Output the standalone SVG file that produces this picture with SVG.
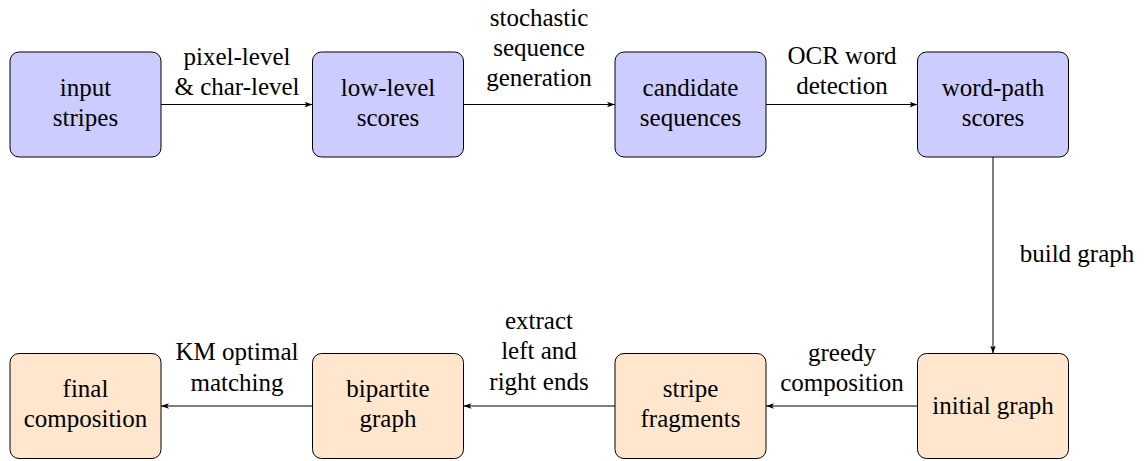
<svg xmlns="http://www.w3.org/2000/svg" width="1145" height="461" viewBox="0 0 1145 461" font-family="Liberation Serif, DejaVu Serif, serif" font-size="25">
<defs>
<style>
.b{fill:#ccccff;stroke:#000;stroke-width:1}
.o{fill:#ffe6cc;stroke:#000;stroke-width:1}
text{fill:#000;text-anchor:middle}
.c line{stroke:#000;stroke-width:1}
</style>
<marker id="ah" viewBox="0 0 10 10" refX="10" refY="5" markerWidth="8" markerHeight="8" markerUnits="userSpaceOnUse" orient="auto">
<path d="M0,1.5 L10,5 L0,8.5 L2.5,5 Z" fill="#000"/>
</marker>
</defs>
<g id="input-stripes"><rect class="b" x="10" y="52" width="151" height="105" rx="9"/><text x="85.5" y="96">input</text><text x="85.5" y="126">stripes</text></g>
<g id="low-level-scores"><rect class="b" x="312.5" y="52" width="151" height="105" rx="9"/><text x="388" y="96">low-level</text><text x="388" y="126">scores</text></g>
<g id="candidate-sequences"><rect class="b" x="615" y="52" width="151" height="105" rx="9"/><text x="690.5" y="96">candidate</text><text x="690.5" y="126">sequences</text></g>
<g id="word-path-scores"><rect class="b" x="917.5" y="52" width="151" height="105" rx="9"/><text x="993" y="96">word-path</text><text x="993" y="126">scores</text></g>
<g id="final-composition"><rect class="o" x="10" y="353.5" width="151" height="105" rx="9"/><text x="85.5" y="397">final</text><text x="85.5" y="427">composition</text></g>
<g id="bipartite-graph"><rect class="o" x="312.5" y="353.5" width="151" height="105" rx="9"/><text x="388" y="397">bipartite</text><text x="388" y="427">graph</text></g>
<g id="stripe-fragments"><rect class="o" x="615" y="353.5" width="151" height="105" rx="9"/><text x="690.5" y="397">stripe</text><text x="690.5" y="427">fragments</text></g>
<g id="initial-graph"><rect class="o" x="917.5" y="353.5" width="151" height="105" rx="9"/><text x="993" y="414">initial graph</text></g>
<g class="c" id="connectors">
<line x1="161" y1="104.5" x2="312.5" y2="104.5" marker-end="url(#ah)"/>
<line x1="463.5" y1="104.5" x2="615" y2="104.5" marker-end="url(#ah)"/>
<line x1="766" y1="104.5" x2="917.5" y2="104.5" marker-end="url(#ah)"/>
<line x1="993" y1="157" x2="993" y2="353.5" marker-end="url(#ah)"/>
<line x1="917.5" y1="406" x2="766" y2="406" marker-end="url(#ah)"/>
<line x1="615" y1="406" x2="463.5" y2="406" marker-end="url(#ah)"/>
<line x1="312.5" y1="406" x2="161" y2="406" marker-end="url(#ah)"/>
</g>
<g id="labels">
<text x="237" y="65">pixel-level</text><text x="237" y="95">&amp; char-level</text>
<text x="539" y="26">stochastic</text><text x="539" y="56">sequence</text><text x="539" y="86">generation</text>
<text x="842" y="64">OCR word</text><text x="842" y="94">detection</text>
<text x="1077" y="262">build graph</text>
<text x="842" y="361">greedy</text><text x="842" y="391">composition</text>
<text x="539" y="329">extract</text><text x="539" y="359">left and</text><text x="539" y="390">right ends</text>
<text x="237" y="360">KM optimal</text><text x="237" y="391">matching</text>
</g>
</svg>
